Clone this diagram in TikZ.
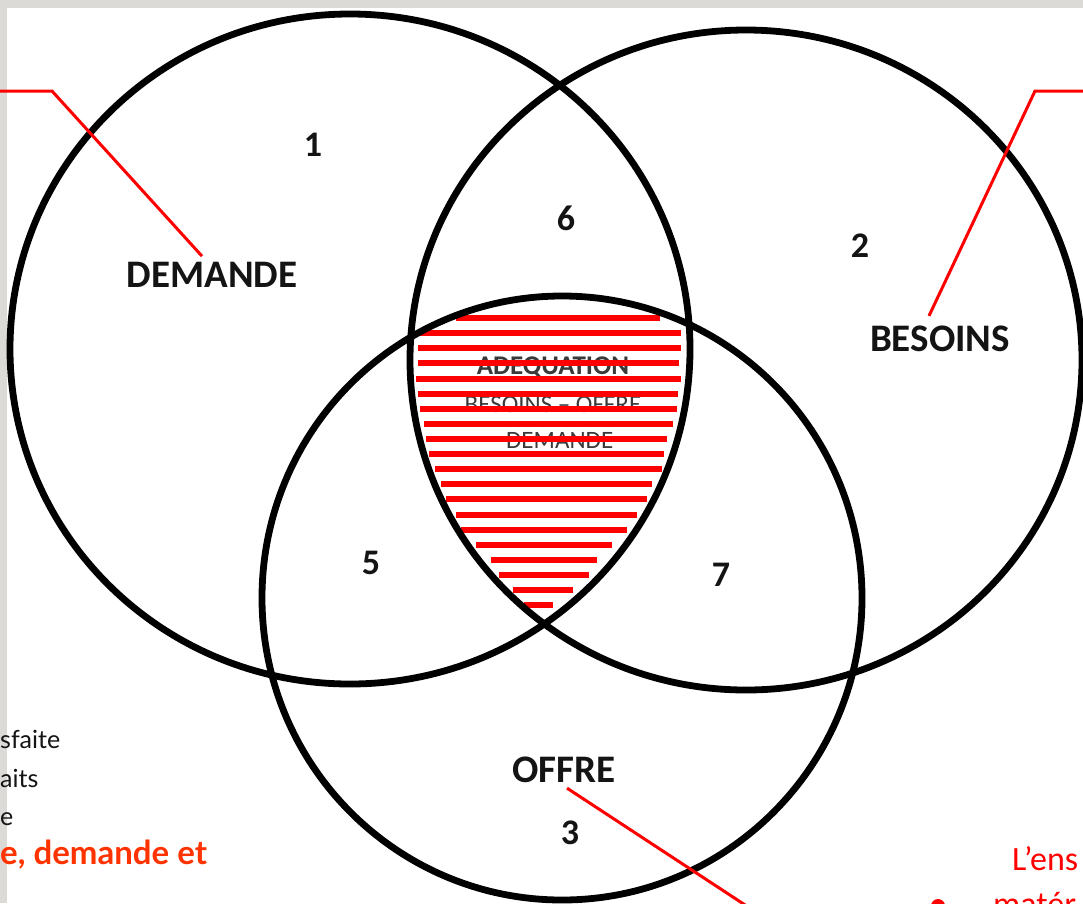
\documentclass[tikz,border=0pt]{standalone}
\usepackage{fontspec}
\setmainfont{Carlito}
\newfontfamily\slidefont{Lato}
\usetikzlibrary{calc}
\definecolor{frame}{HTML}{DCDAD6}
\definecolor{ink}{HTML}{141414}
\definecolor{hatchred}{HTML}{FF0000}
\definecolor{accent}{HTML}{FF3300}
\definecolor{innerink}{HTML}{3A3A3A}

\begin{document}
\begin{tikzpicture}[x=1pt,y=-1pt,
  setring/.style={draw=black, line width=6.8pt},
  setlabel/.style={inner sep=0pt, text=ink, font=\fontsize{39}{44}\selectfont\bfseries},
  zonenum/.style={inner sep=0pt, text=ink, font=\fontsize{36}{42}\selectfont\bfseries},
  coretext/.style={inner sep=0pt, text=innerink, font=\fontsize{25}{30}\selectfont},
  stripe/.style={draw=hatchred, line width=6pt},
  callout/.style={draw=hatchred, line width=3pt},
  sidetext/.style={inner sep=0pt, anchor=base west, text=ink, font=\slidefont\fontsize{25}{30}\selectfont},
  sideaccent/.style={inner sep=0pt, anchor=base west, text=accent, font=\slidefont\fontsize{33}{38}\selectfont\bfseries},
  notetext/.style={inner sep=0pt, anchor=base west, text=hatchred, font=\fontsize{34}{40}\selectfont}]
\useasboundingbox (0,0) rectangle (1083,903);
\clip (0,0) rectangle (1083,903);

% page and slide frame
\fill[white] (0,0) rectangle (1083,903);
\fill[frame] (0,0) rectangle (1083,8);
\fill[frame] (0,0) rectangle (7,903);

% text of the common zone (under the hatching)
\node[coretext, font=\fontsize{27}{30}\selectfont\bfseries] (core1) at (553,367) {ADEQUATION};
\node[coretext] (core2) at (553,404) {BESOINS -- OFFRE};
\node[coretext] (core3) at (553,440) {- DEMANDE};

% red hatching of the common zone
\foreach \yy/\xa/\xb in {318/456/660, 333/420/681, 348/418/681, 363/418/679,
    379/416/681, 394/418/678, 409/420/677, 424/424/673, 439/426/667,
    454/429/664, 469/435/662, 484/441/652, 499/446/647, 515/456/637,
    530/461/627, 545/476/612, 560/491/597, 575/499/589, 590/513/573,
    605/524/553}
  \draw[stripe] (\xa,\yy) -- (\xb,\yy);

% the three sets
\coordinate (cdem) at (350,349);
\coordinate (cbes) at (746,360);
\coordinate (coff) at (562,598);
\draw[setring] (cdem) ellipse [x radius=340pt, y radius=335pt];
\draw[setring] (cbes) ellipse [x radius=336pt, y radius=330pt];
\draw[setring] (coff) ellipse [x radius=300pt, y radius=302pt];

% set names and zone numbers
\node[setlabel] (dem) at (212,275) {DEMANDE};
\node[setlabel] (bes) at (940,339) {BESOINS};
\node[setlabel] (off) at (564,770) {OFFRE};
\node[zonenum] (z1) at (313,145) {1};
\node[zonenum] (z2) at (860,246) {2};
\node[zonenum] (z3) at (570,833) {3};
\node[zonenum] (z5) at (371,563) {5};
\node[zonenum] (z6) at (566,218) {6};
\node[zonenum] (z7) at (721,575) {7};

% red callouts
\coordinate (demknee) at (52,91);
\coordinate (demout) at (-10,91);
\coordinate (besknee) at (1035,91);
\coordinate (besout) at (1095,91);
\coordinate (offout) at (800,941);
\draw[callout] ($(dem.north)+(-10,-6)$) -- (demknee) -- (demout);
\draw[callout] ($(bes.north)+(-11,-10)$) -- (besknee) -- (besout);
\draw[callout] ($(off.south)+(3,5)$) -- (offout);

% slide text running past the edges
\node[sidetext] (s1) at (0,748) {sfaite};
\node[sidetext] (s2) at (0,787) {aits};
\node[sidetext] (s3) at (0,825) {e};
\node[sideaccent] (s4) at (0,864) {e, demande et};
\node[notetext] (n1) at (1012,870) {L’ens};
\node[notetext] (n2) at (993,915) {matér};
\fill[hatchred] (938,906) circle [radius=7pt];
\end{tikzpicture}
\end{document}
